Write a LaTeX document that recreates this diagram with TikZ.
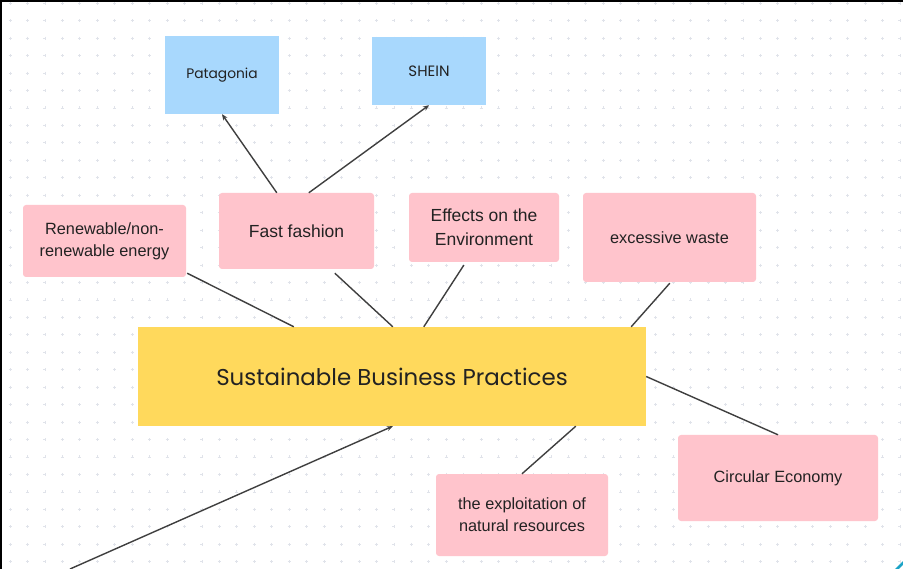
\documentclass[tikz,border=0pt]{standalone}
\usepackage{fontspec}
\setmainfont{Liberation Sans}
\newfontfamily\roundfont{Poppins}
\usetikzlibrary{arrows.meta,calc}
\definecolor{pinkbox}{HTML}{FFC4CC}
\definecolor{bluebox}{HTML}{A8D8FD}
\definecolor{yellowbox}{HTML}{FFD95C}
\definecolor{gridc}{HTML}{E0E3EA}
\definecolor{linec}{HTML}{3F3F3F}
\definecolor{textc}{HTML}{222222}
\definecolor{tealc}{HTML}{1BA3C6}
\tikzset{
  pinknode/.style={fill=pinkbox, rounded corners=3pt, inner sep=0pt, align=center, text=textc, font=\fontsize{16.3}{22}\selectfont},
  bluenode/.style={fill=bluebox, inner sep=0pt, align=center, text=textc, font=\roundfont\fontsize{13.8}{16}\selectfont},
  mainnode/.style={fill=yellowbox, inner sep=0pt, align=center, text=textc, font=\roundfont\fontsize{22.9}{28}\selectfont},
  link/.style={draw=linec, line width=1.4pt},
  arrowlink/.style={link, -{Stealth[length=6pt,width=5pt]}},
  gridmark/.style={draw=gridc, line width=0.8pt}
}
\begin{document}
\begin{tikzpicture}[x=1pt,y=-1pt]
\useasboundingbox (0,0) rectangle (903,569);
\fill[white] (0,0) rectangle (903,569);
% grid of plus marks
\foreach \i in {0,...,51} {
  \foreach \j in {0,...,32} {
    \pgfmathsetmacro{\gx}{10+17.45*\i}
    \pgfmathsetmacro{\gy}{3.3+17.45*\j}
    \draw[gridmark] (\gx-1.5,\gy) -- (\gx+1.5,\gy) (\gx,\gy-1.5) -- (\gx,\gy+1.5);
  }
}
% frame
\draw[black, line width=2pt] (1,569) -- (1,1) -- (903,1);

% nodes
\node[bluenode, minimum width=114pt, minimum height=78pt] (pat) at (222,75) {Patagonia};
\node[bluenode, minimum width=114pt, minimum height=68pt, font=\roundfont\fontsize{15}{16}\selectfont] (shein) at (429,71) {SHEIN};
\node[pinknode, minimum width=155pt, minimum height=76pt, font=\fontsize{17.5}{22}\selectfont] (fast) at (296.5,231) {Fast fashion};
\node[pinknode, minimum width=163pt, minimum height=72pt] (ren) at (104.5,241) {Renewable/non-\\renewable energy};
\node[pinknode, minimum width=150pt, minimum height=69pt, font=\fontsize{17.5}{24}\selectfont] (eff) at (484,227.5) {Effects on the\\Environment};
\node[pinknode, minimum width=173pt, minimum height=89pt] (waste) at (669.5,237.5) {excessive waste};
\node[mainnode, minimum width=508pt, minimum height=99pt] (sbp) at (392,376.5) {Sustainable Business Practices};
\node[pinknode, minimum width=172pt, minimum height=82pt] (expl) at (522,515) {the exploitation of\\natural resources};
\node[pinknode, minimum width=200pt, minimum height=86pt] (circ) at (778,478) {Circular Economy};
\coordinate (bl) at (70,569);

% connectors
\draw[arrowlink] ($(fast.north west)+(58,0)$) -- (pat.south);
\draw[arrowlink] ($(fast.north west)+(90,0)$) -- (shein.south);
\draw[link] ($(ren.south east)+(1,-4)$) -- ($(sbp.north west)+(156,0)$);
\draw[link] ($(fast.south west)+(116,4)$) -- ($(sbp.north west)+(255,0)$);
\draw[link] ($(eff.south west)+(55,3)$) -- ($(sbp.north west)+(286,0)$);
\draw[link] ($(waste.south west)+(87,1)$) -- ($(sbp.north east)+(-15,0)$);
\draw[link] (sbp.east) -- (circ.north);
\draw[link] ($(sbp.south west)+(438,0)$) -- (expl.north);
\draw[arrowlink] (bl) -- ($(sbp.south west)+(255,0)$);

% corner fragment
\draw[tealc, line width=2.5pt] (896,570) -- (904,562);
\end{tikzpicture}
\end{document}
